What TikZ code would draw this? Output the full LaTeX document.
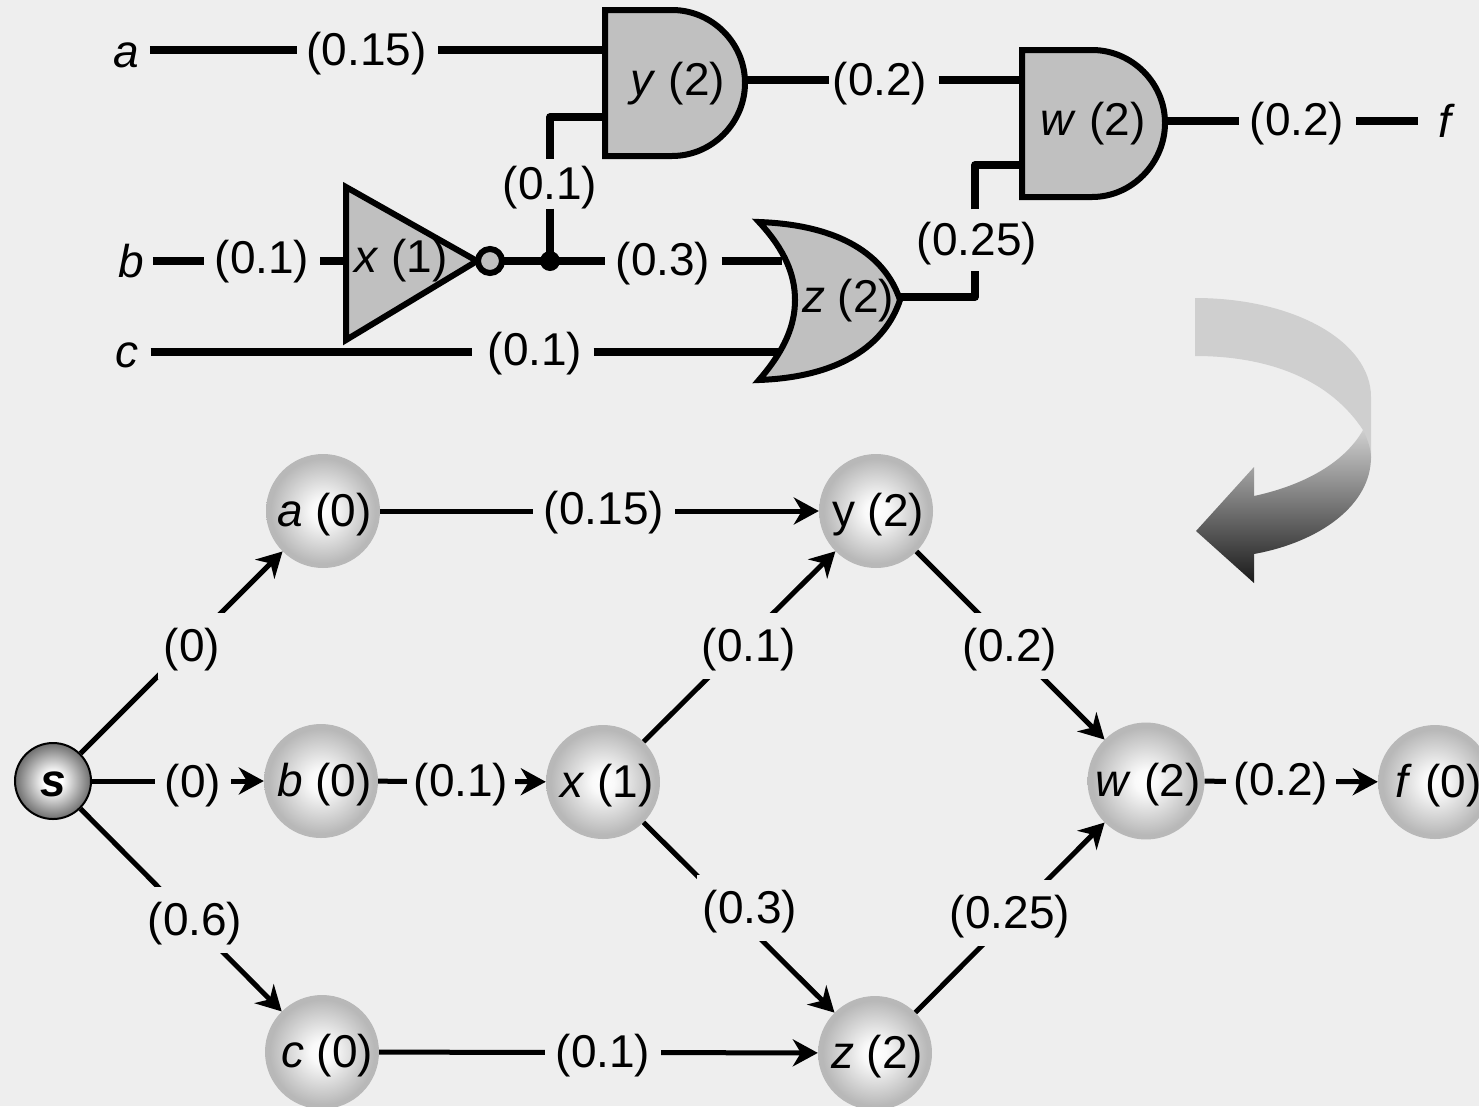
\documentclass[tikz,border=0pt]{standalone}
\usepackage{fontspec}
\setmainfont{Liberation Sans}
\usetikzlibrary{arrows.meta}
\definecolor{bgc}{HTML}{EEEEEE}
\definecolor{gatec}{HTML}{C0C0C0}
\definecolor{ballc}{HTML}{B8B8B8}
\definecolor{bandc}{HTML}{CFCFCF}
\definecolor{startc}{HTML}{6E6E6E}
\pgfdeclareradialshading{ballsh}{\pgfpoint{0bp}{0bp}}{color(0bp)=(white); color(5bp)=(white!92!ballc); color(23bp)=(ballc); color(50bp)=(ballc)}
\pgfdeclareradialshading{startsh}{\pgfpoint{0bp}{0bp}}{color(0bp)=(white); color(6bp)=(white); color(25bp)=(startc); color(50bp)=(startc)}
\tikzset{
  txt/.style={font=\fontsize{46}{55}\selectfont,text height=37pt,text depth=6pt,inner sep=0pt},
  ball/.style={txt,circle,minimum size=114pt,inner sep=0pt,shading=ballsh},
  start/.style={txt,circle,minimum size=76pt,inner sep=0pt,draw=black,line width=2pt,shading=startsh},
  elab/.style={txt,fill=bgc,inner xsep=11pt,inner ysep=11.5pt},
  clab/.style={txt,inner xsep=11pt,inner ysep=3pt},
  edge/.style={line width=5pt,draw=black},
  arr/.style={edge,-{Stealth[length=25pt,width=27pt,inset=8pt]}},
  wire/.style={line width=7.5pt,draw=black,line join=round},
  gate/.style={line width=6pt,draw=black,fill=gatec,line join=miter},
  pin/.style={txt,inner ysep=0pt},
}
\begin{document}
\begin{tikzpicture}[x=1pt,y=-1pt]
\useasboundingbox (0,0) rectangle (1479,1106);
\fill[bgc] (0,0) rectangle (1479,1106);

% ---- curved arrow
\fill[bandc] (1195,298) .. controls (1295,298) and (1371,342) .. (1371,397)
  -- (1371,460) -- (1363,430) .. controls (1330,380) and (1270,356) .. (1195,356) -- cycle;
\shade[top color=bandc,bottom color=black!90] (1363,430) .. controls (1368,440) and (1371,450) .. (1371,457)
  .. controls (1371,505) and (1320,542) .. (1254,554) -- (1254,583) -- (1196,531) -- (1254,467) -- (1254,496)
  .. controls (1305,485) and (1345,462) .. (1363,430) -- cycle;

% ---- circuit: terminals and labels
\node[pin,inner xsep=11pt] (ta) at (126,52) {\textit{a}};
\node[pin,inner xsep=9pt] (tb) at (131,262) {\textit{b}};
\node[pin,inner xsep=12pt] (tc) at (127,352) {\textit{c}};
\node[pin,inner xsep=20pt] (tf) at (1447,122) {\textit{f}};
\node[clab] (c1) at (366.5,50) {(0.15)};
\node[clab] (c2) at (550,184) {(0.1)};
\node[clab] (c3) at (262,258) {(0.1)};
\node[clab] (c4) at (663,260) {(0.3)};
\node[clab] (c5) at (535,350) {(0.1)};
\node[clab] (c6) at (880,80) {(0.2)};
\node[clab,inner ysep=9pt] (c7) at (977,240) {(0.25)};
\node[clab] (c8) at (1297,120) {(0.2)};

% ---- circuit: ports
\coordinate (ya) at (605,50);
\coordinate (yb) at (605,117);
\coordinate (yc) at (550,117);
\coordinate (yo) at (745,80);
\coordinate (xi) at (346,261);
\coordinate (xo) at (502,261);
\coordinate (jn) at (550,261);
\coordinate (za) at (782,261);
\coordinate (zb) at (782,352);
\coordinate (zo) at (900,297);
\coordinate (zc) at (975,297);
\coordinate (wa) at (1022,80);
\coordinate (wb) at (1022,165);
\coordinate (wc) at (975,165);
\coordinate (wo) at (1165,121);

% ---- circuit: wires
\draw[wire,shorten >=-1.5pt] (ta.east |- c1) -- (c1);
\draw[wire] (c1) -- (ya);
\draw[wire] (yb) -- (yc) -- (c2);
\draw[wire] (c2) -- (jn);
\draw[wire] (tb.east |- xi) -- (c3.west |- xi);
\draw[wire] (c3.east |- xi) -- (xi);
\draw[wire] (xo) -- (c4.west |- xo);
\draw[wire] (c4.east |- za) -- (za);
\draw[wire,shorten >=5pt] (tc.east |- zb) -- (c5.west |- zb);
\draw[wire] (c5.east |- zb) -- (zb);
\draw[wire] (zo) -- (zc) -- (zc |- c7.south);
\draw[wire] (wc |- c7.north) -- (wc) -- (wb);
\draw[wire,shorten >=-7pt] (yo) -- (c6);
\draw[wire] (c6) -- (wa);
\draw[wire] (wo) -- (c8.west |- wo);
\draw[wire] (c8.east |- wo) -- (tf.west |- wo);
\fill (jn) circle[radius=10pt];

% ---- circuit: gates
\draw[gate] (605,10) -- (672,10) .. controls (712,10) and (745,43) .. (745,83)
  .. controls (745,123) and (712,156) .. (672,156) -- (605,156) -- cycle;
\draw[gate] (1022,50) -- (1092,50) .. controls (1132,50) and (1165,83) .. (1165,123)
  .. controls (1165,163) and (1132,197) .. (1092,197) -- (1022,197) -- cycle;
\draw[gate] (346,187) -- (477,261) -- (346,340) -- cycle;
\draw[gate] (490,261) circle[radius=12pt];
\draw[gate] (759,222) .. controls (840,225) and (885,255) .. (900,300)
  .. controls (885,345) and (840,377) .. (759,380)
  .. controls (785,350) and (795,325) .. (795,300)
  .. controls (795,275) and (785,250) .. (759,222) -- cycle;
\node[txt] (gy) at (678,80) {\textit{y} (2)};
\node[txt] (gw) at (1093,120) {\textit{w} (2)};
\node[txt] (gx) at (401,257) {\textit{x} (1)};
\node[txt] (gz) at (848,297) {\textit{z} (2)};

% ---- graph: nodes
\node[start] (s) at (53,781) {\textbf{\textit{s}}};
\node[ball] (a) at (323,511) {\kern3pt\textit{a} (0)};
\node[ball] (b) at (321,781) {\kern7pt\textit{b} (0)};
\node[ball] (c) at (322,1052) {\kern10pt\textit{c} (0)};
\node[ball] (x) at (603,782) {\kern8pt\textit{x} (1)};
\node[ball] (y) at (876,511) {\kern4pt y (2)};
\node[ball] (z) at (875,1053) {\kern4pt\textit{z} (2)};
\node[ball] (w) at (1146,781) {\kern4pt\textit{w} (2)};
\node[ball] (f) at (1435,782) {\kern7pt\textit{f} (0)};

% ---- graph: edges
\draw[arr] (s) -- (a);
\draw[arr] (s) -- (b);
\draw[arr] (s) -- (c);
\draw[arr] (a) -- (y);
\draw[arr] (b) -- (x);
\draw[arr] (c) -- (z);
\draw[arr] (x) -- (y);
\draw[arr] (x) -- (z);
\draw[arr] (y) -- (w);
\draw[arr] (z) -- (w);
\draw[arr] (w) -- (f);

% ---- graph: edge labels
\node[elab,inner xsep=6pt] (e1) at (192,646) {(0)};
\node[elab,inner xsep=10pt] (e2) at (193,782) {(0)};
\node[elab,inner xsep=6pt] (e3) at (195,920) {(0.6)};
\node[elab] (e4) at (604,509) {(0.15)};
\node[elab,inner xsep=7pt] (e5) at (461,781) {(0.1)};
\node[elab] (e6) at (603,1052) {(0.1)};
\node[elab,inner xsep=6pt] (e7) at (749,646) {(0.1)};
\node[elab,inner xsep=6pt] (e8) at (750,908) {(0.3)};
\node[elab,inner xsep=6pt] (e9) at (1010,646) {(0.2)};
\node[elab,inner xsep=6pt] (e10) at (1010,913) {(0.25)};
\node[elab,inner xsep=8pt] (e11) at (1281,780) {(0.2)};
\end{tikzpicture}
\end{document}
